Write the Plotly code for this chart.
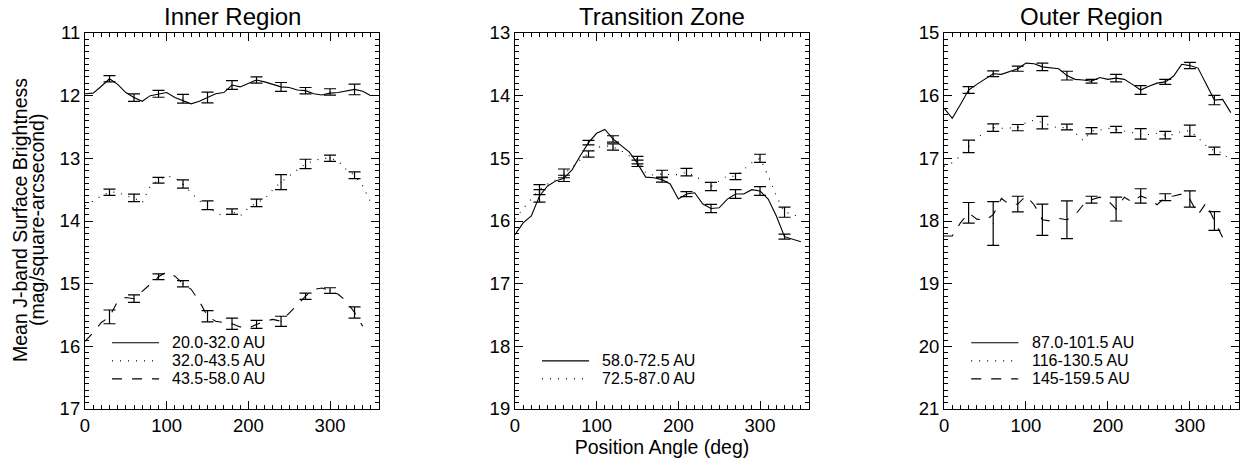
"""
plot.py
Mean J-band surface brightness vs position angle, three radial regions.
"""
import plotly.graph_objects as go
from plotly.subplots import make_subplots

# position angles: line samples (every 10 deg) and error-bar points (every 30 deg)
pa_line = list(range(0, 360, 10))
pa_err = list(range(30, 340, 30))

# Inner region
inner_a = [11.97, 11.96, 11.85, 11.73, 11.82, 11.95, 12.03, 12.09, 12.0, 11.97, 11.95, 12.03,
           12.08, 12.13, 12.09, 12.03, 11.97, 11.95, 11.83, 11.86, 11.8, 11.75, 11.78, 11.82,
           11.86, 11.87, 11.91, 11.92, 11.97, 11.99, 11.96, 11.95, 11.93, 11.9, 11.93, 12.0]
inner_a_pts = [11.73, 12.03, 11.97, 12.05, 12.03, 11.83, 11.75, 11.86, 11.92, 11.94, 11.9]
inner_a_err = [0.05, 0.06, 0.055, 0.07, 0.085, 0.07, 0.05, 0.07, 0.05, 0.05, 0.085]

inner_b = [13.76, 13.68, 13.6, 13.54, 13.54, 13.6, 13.63, 13.71, 13.44, 13.35, 13.28, 13.31,
           13.41, 13.55, 13.68, 13.75, 13.87, 13.92, 13.85, 13.92, 13.79, 13.71, 13.65, 13.5,
           13.38, 13.28, 13.18, 13.09, 13.04, 13.0, 13.0, 13.04, 13.18, 13.27, 13.44, 13.71]
inner_b_pts = [13.54, 13.63, 13.35, 13.41, 13.75, 13.85, 13.71, 13.38, 13.09, 13.0, 13.27]
inner_b_err = [0.05, 0.06, 0.045, 0.065, 0.07, 0.045, 0.06, 0.12, 0.075, 0.05, 0.055]

inner_c = [15.92, 15.78, 15.62, 15.53, 15.28, 15.22, 15.24, 15.12, 15.01, 14.89, 14.81, 14.88,
           15.0, 15.09, 15.28, 15.52, 15.6, 15.62, 15.64, 15.69, 15.71, 15.65, 15.6, 15.57,
           15.6, 15.47, 15.34, 15.2, 15.09, 15.07, 15.11, 15.17, 15.28, 15.46, 15.68]
inner_c_pts = [15.53, 15.24, 14.89, 15.0, 15.52, 15.64, 15.65, 15.6, 15.2, 15.11, 15.46]
inner_c_err = [0.11, 0.06, 0.045, 0.05, 0.09, 0.09, 0.065, 0.08, 0.05, 0.045, 0.09]

# Transition zone
trans_a = [16.22, 16.03, 15.92, 15.6, 15.44, 15.36, 15.32, 15.18, 14.96, 14.75, 14.6, 14.54,
           14.69, 14.8, 14.9, 15.08, 15.3, 15.31, 15.34, 15.41, 15.65, 15.57, 15.55, 15.73,
           15.8, 15.79, 15.65, 15.57, 15.57, 15.5, 15.52, 15.65, 15.92, 16.25, 16.29, 16.33]
trans_a_pts = [15.6, 15.32, 14.75, 14.69, 15.08, 15.34, 15.57, 15.8, 15.57, 15.52, 16.25]
trans_a_err = [0.1, 0.05, 0.035, 0.05, 0.05, 0.04, 0.04, 0.065, 0.07, 0.07, 0.04]

trans_b = [15.97, 15.8, 15.65, 15.5, 15.41, 15.34, 15.24, 15.15, 15.02, 14.93, 14.83, 14.8,
           14.82, 14.88, 14.96, 15.02, 15.23, 15.27, 15.25, 15.26, 15.26, 15.22, 15.28, 15.36,
           15.45, 15.36, 15.28, 15.29, 15.18, 15.07, 15.0, 15.28, 15.6, 15.86, 15.89, 15.96]
trans_b_pts = [15.5, 15.24, 14.93, 14.82, 15.03, 15.25, 15.22, 15.45, 15.29, 15.0, 15.86]
trans_b_err = [0.08, 0.07, 0.05, 0.05, 0.06, 0.06, 0.06, 0.065, 0.05, 0.065, 0.08]

# Outer region
outer_a = [16.2, 16.36, 16.14, 15.91, 15.82, 15.74, 15.65, 15.66, 15.61, 15.57, 15.48, 15.49,
           15.54, 15.55, 15.57, 15.68, 15.74, 15.75, 15.77, 15.71, 15.74, 15.72, 15.74, 15.82,
           15.91, 15.85, 15.8, 15.78, 15.69, 15.5, 15.52, 15.56, 15.82, 16.07, 16.06, 16.27]
outer_a_pts = [15.91, 15.65, 15.57, 15.54, 15.68, 15.77, 15.72, 15.91, 15.78, 15.52, 16.07]
outer_a_err = [0.055, 0.045, 0.04, 0.06, 0.07, 0.03, 0.06, 0.07, 0.04, 0.05, 0.075]

outer_b = [17.13, 17.07, 16.96, 16.81, 16.67, 16.59, 16.51, 16.52, 16.52, 16.51, 16.43, 16.39,
           16.43, 16.48, 16.52, 16.5, 16.59, 16.72, 16.56, 16.55, 16.52, 16.54, 16.57, 16.59,
           16.61, 16.62, 16.6, 16.63, 16.62, 16.57, 16.56, 16.67, 16.8, 16.88, 16.91, 17.05]
outer_b_pts = [16.81, 16.51, 16.51, 16.43, 16.5, 16.56, 16.54, 16.61, 16.63, 16.56, 16.88]
outer_b_err = [0.1, 0.06, 0.05, 0.1, 0.045, 0.05, 0.05, 0.085, 0.06, 0.09, 0.06]

outer_c = [18.24, 18.24, 18.03, 17.87, 17.97, 17.99, 17.9, 17.64, 17.74, 17.73, 17.6, 17.74,
           17.98, 18.0, 17.96, 17.98, 17.9, 17.74, 17.66, 17.62, 17.67, 17.81, 17.62, 17.7,
           17.6, 17.65, 17.74, 17.62, 17.6, 17.57, 17.65, 17.9, 17.71, 18.0, 18.26]
outer_c_pts = [17.87, 18.04, 17.73, 17.98, 17.98, 17.66, 17.81, 17.6, 17.62, 17.65, 18.0]
outer_c_err = [0.165, 0.35, 0.125, 0.25, 0.3, 0.055, 0.19, 0.115, 0.055, 0.13, 0.15]

FONT = "Liberation Sans, Arial, Helvetica, sans-serif"
DOT = "1px,7px"
DASH = "10px,10px"

panels = [
    ("Inner Region", [11, 17], [
        ("20.0-32.0 AU", inner_a, inner_a_pts, inner_a_err, "solid"),
        ("32.0-43.5 AU", inner_b, inner_b_pts, inner_b_err, DOT),
        ("43.5-58.0 AU", inner_c, inner_c_pts, inner_c_err, DASH),
    ]),
    ("Transition Zone", [13, 19], [
        ("58.0-72.5 AU", trans_a, trans_a_pts, trans_a_err, "solid"),
        ("72.5-87.0 AU", trans_b, trans_b_pts, trans_b_err, DOT),
    ]),
    ("Outer Region", [15, 21], [
        ("87.0-101.5 AU", outer_a, outer_a_pts, outer_a_err, "solid"),
        ("116-130.5 AU", outer_b, outer_b_pts, outer_b_err, DOT),
        ("145-159.5 AU", outer_c, outer_c_pts, outer_c_err, DASH),
    ]),
]

fig = make_subplots(rows=1, cols=3)
domains = [[0.0, 0.2548], [0.3726, 0.6274], [0.7444, 1.0]]
legend_rows = [0.176, 0.128, 0.080]

for i, (title, yr, series) in enumerate(panels):
    col = i + 1
    ax = "" if i == 0 else str(col)
    rows = legend_rows[-len(series):]
    for k, (name, line_y, pts, err, dash) in enumerate(series):
        fig.add_trace(go.Scatter(
            x=pa_line[:len(line_y)], y=line_y, mode="lines", name=name, showlegend=False,
            line=dict(color="black", width=1.1, dash=dash),
        ), row=1, col=col)
        fig.add_trace(go.Scatter(
            x=pa_err, y=pts, mode="markers", showlegend=False, hoverinfo="skip",
            marker=dict(size=1, color="black"),
            error_y=dict(type="data", array=err, visible=True, color="black",
                         thickness=1.2, width=6),
        ), row=1, col=col)

        # in-panel key, drawn like the original (IDL-style legend)
        fig.add_shape(type="line", xref=f"x{ax} domain", yref=f"y{ax} domain",
                      x0=0.092, x1=0.252, y0=rows[k], y1=rows[k],
                      line=dict(color="black", width=1.1, dash=dash))
        fig.add_annotation(text=name, xref=f"x{ax} domain", yref=f"y{ax} domain",
                           x=0.29, y=rows[k], xanchor="left", yanchor="middle",
                           showarrow=False, font=dict(size=16, family=FONT, color="black"))

    fig.update_xaxes(domain=domains[i], range=[0, 360], tickvals=[0, 100, 200, 300],
                     row=1, col=col)
    fig.update_yaxes(range=[yr[1], yr[0]], dtick=1, row=1, col=col)
    fig.add_annotation(text=title, xref="paper", yref="paper",
                       x=sum(domains[i]) / 2, y=1.0, xanchor="center", yanchor="middle",
                       yshift=17, showarrow=False,
                       font=dict(size=24, family=FONT, color="black"))

axis_style = dict(
    showline=True, linecolor="black", linewidth=1.2, mirror="allticks",
    ticks="inside", ticklen=8, tickwidth=1, tickcolor="black",
    showgrid=False, zeroline=False,
    tickfont=dict(size=18.5, family=FONT, color="black"),
)
fig.update_xaxes(**axis_style, minor=dict(ticks="inside", dtick=10, ticklen=4,
                                         tickcolor="black", showgrid=False))
fig.update_yaxes(**axis_style, minor=dict(ticks="inside", dtick=0.1, ticklen=4,
                                         tickcolor="black", showgrid=False))

# y title as two rotated lines (tighter line spacing than a <br> title)
for text, px in [("Mean J-band Surface Brightness", 20), ("(mag/square-arcsecond)", 37)]:
    fig.add_annotation(text=text, textangle=-90, xref="paper", yref="paper",
                       x=(px - 85) / 1154, y=0.5, xanchor="center", yanchor="middle",
                       yshift=1, showarrow=False,
                       font=dict(size=19.5, family=FONT, color="black"))

fig.update_xaxes(title=dict(text="Position Angle (deg)",
                            font=dict(size=19.5, family=FONT, color="black"), standoff=2),
                 row=1, col=2)

fig.update_layout(
    width=1244, height=462,
    margin=dict(l=85, r=5, t=33, b=53),
    paper_bgcolor="white", plot_bgcolor="white",
    font=dict(family=FONT, color="black"),
    showlegend=False,
)

fig.write_html("out.html", config={"displayModeBar": False},
               post_script="document.body.style.margin='0px';")
